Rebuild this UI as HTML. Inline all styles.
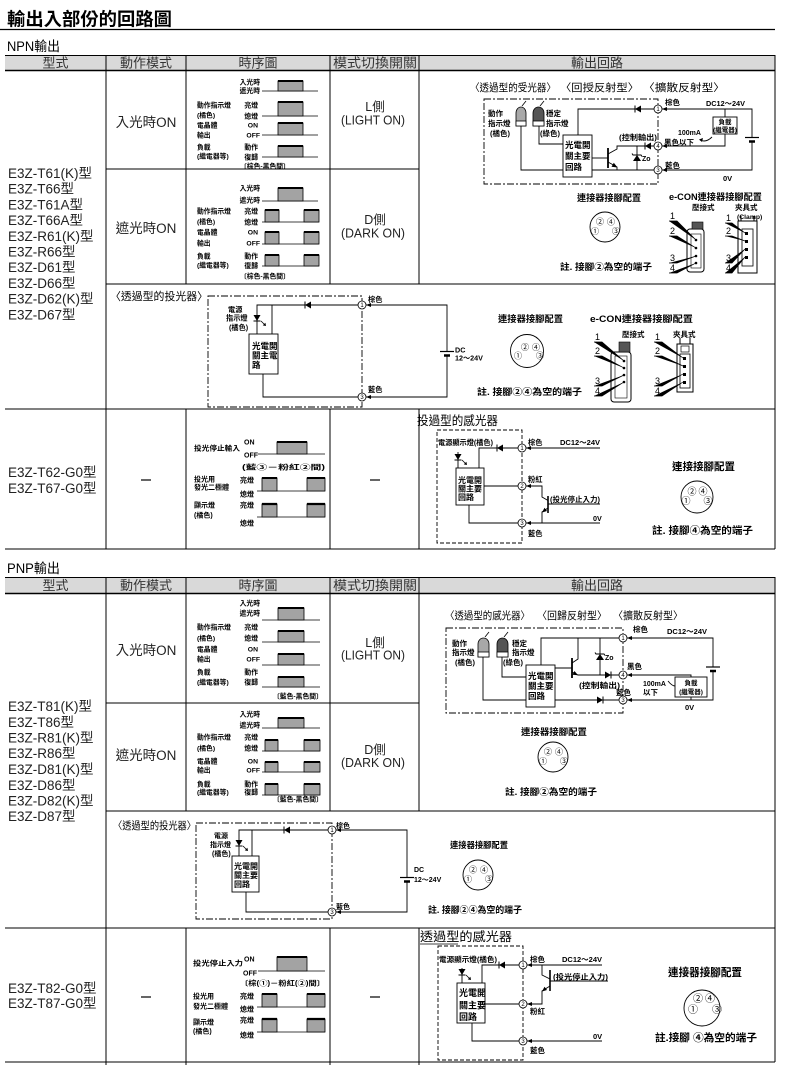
<!DOCTYPE html>
<html><head><meta charset="utf-8"><style>
html,body{margin:0;padding:0;background:#fff;}
svg{display:block;font-family:"Liberation Sans","Noto Sans CJK TC",sans-serif;}
.b{font-weight:bold;}
</style></head><body>
<svg width="790" height="1092" viewBox="0 0 790 1092" xmlns="http://www.w3.org/2000/svg" xmlns:xlink="http://www.w3.org/1999/xlink">
<defs>
<g id="dl"><polygon points="-3,0 3,-3.5 3,3.5" fill="#000"/><line x1="-3" y1="-3.5" x2="-3" y2="3.5" stroke="#000" stroke-width="1"/></g>
<g id="dr"><polygon points="3,0 -3,-3.5 -3,3.5" fill="#000"/><line x1="3" y1="-3.5" x2="3" y2="3.5" stroke="#000" stroke-width="1"/></g>
<polygon id="ta" points="0,0 5,-2 5,2" fill="#000"/>
<g id="led"><polygon points="-3.5,-3 3.5,-3 0,3" fill="#000"/><line x1="-3.5" y1="3" x2="3.5" y2="3" stroke="#000"/><line x1="4" y1="3" x2="8" y2="7" stroke="#000" stroke-width="0.8"/><polygon points="9,8 5.8,7.4 8.4,4.8" fill="#000"/></g>
<g id="zen"><polygon points="-4,3 4,3 0,-3" fill="#000"/><path d="M-5,-4.5 L-4,-3 H4 L5,-1.5" fill="none" stroke="#000"/></g>
</defs>
<rect width="790" height="1092" fill="#fff"/>

<!-- Title -->
<text x="7" y="25.5" font-size="18" class="b" textLength="165" lengthAdjust="spacingAndGlyphs">輸出入部份的回路圖</text>
<line x1="0" y1="29.5" x2="775" y2="29.5" stroke="#000" stroke-width="1.2"/>
<text x="7" y="51" font-size="13.5" textLength="53" lengthAdjust="spacingAndGlyphs">NPN輸出</text>

<!-- NPN header -->
<rect x="5" y="55.5" width="770" height="15" fill="#d9d9d9"/>
<g font-size="13" fill="#333" text-anchor="middle">
<text x="55.5" y="67.5">型式</text>
<text x="146" y="67.5">動作模式</text>
<text x="258" y="67.5">時序圖</text>
<text x="375" y="67.5" textLength="84" lengthAdjust="spacingAndGlyphs">模式切換開關</text>
<text x="597" y="67.5">輸出回路</text>
</g>

<!-- NPN table lines -->
<g stroke="#000" stroke-width="1" fill="none">
<path d="M5,55.5 H775"/>
<path d="M5,70.5 H775" stroke-width="1.5"/>
<path d="M106,169 H419 M106,284 H775 M5,409 H775 M5,549 H775"/>
<path d="M106,55 V549 M186,55 V284 M186,409 V549 M330,55 V284 M330,409 V549 M419,55 V284 M419,409 V549 M775,55 V549"/>
</g>

<!-- NPN col1 -->
<g font-size="13.5" fill="#222">
<text x="8" y="178">E3Z-T61(K)型</text>
<text x="8" y="193.7">E3Z-T66型</text>
<text x="8" y="209.4">E3Z-T61A型</text>
<text x="8" y="225.1">E3Z-T66A型</text>
<text x="8" y="240.8">E3Z-R61(K)型</text>
<text x="8" y="256.5">E3Z-R66型</text>
<text x="8" y="272.2">E3Z-D61型</text>
<text x="8" y="287.9">E3Z-D66型</text>
<text x="8" y="303.6">E3Z-D62(K)型</text>
<text x="8" y="319.3">E3Z-D67型</text>
<text x="8" y="477">E3Z-T62-G0型</text>
<text x="8" y="493">E3Z-T67-G0型</text>
</g>
<g font-size="13.5" fill="#222" text-anchor="middle">
<text x="146" y="127">入光時ON</text>
<text x="146" y="233">遮光時ON</text>
</g>
<g font-size="12.5" fill="#222" text-anchor="middle">
<text x="375" y="111">L側</text>
<text x="373" y="124.5" textLength="64" lengthAdjust="spacingAndGlyphs">(LIGHT ON)</text>
<text x="375" y="224">D側</text>
<text x="373" y="237.5" textLength="64" lengthAdjust="spacingAndGlyphs">(DARK   ON)</text>
</g>
<g stroke="#000" stroke-width="1.2"><line x1="141" y1="480" x2="151" y2="480"/><line x1="370" y1="480" x2="380" y2="480"/></g>

<!-- NPN timing chart 1 -->
<g class="b" font-size="6.8">
<g text-anchor="end">
<text x="260" y="84.5">入光時</text><text x="260" y="93">遮光時</text>
<text x="258" y="107.5">亮燈</text><text x="258" y="118.5">熄燈</text>
<text x="258" y="127.5">ON</text><text x="260" y="137.5">OFF</text>
<text x="258" y="149.5">動作</text><text x="258" y="159.5">復歸</text>
</g>
<text x="197" y="107.5">動作指示燈</text><text x="197" y="117.5">(橘色)</text>
<text x="197" y="127.5">電晶體</text><text x="197" y="137.5">輸出</text>
<text x="197" y="149.5">負載</text><text x="197" y="158.5">(繼電器等)</text>
<text x="240" y="168.5">〔棕色-黑色間〕</text>
</g>
<g stroke="#000" stroke-width="0.8">
<line x1="262" y1="91" x2="318" y2="91"/><rect x="278" y="81" width="25" height="10" fill="#a3a3a3"/><line x1="278" y1="81" x2="303" y2="81" stroke-width="2"/>
<line x1="262" y1="116" x2="318" y2="116"/><rect x="278" y="102" width="25" height="14" fill="#a3a3a3"/><line x1="278" y1="102" x2="303" y2="102" stroke-width="2"/>
<line x1="262" y1="135" x2="318" y2="135"/><rect x="278" y="123" width="25" height="12" fill="#a3a3a3"/><line x1="278" y1="123" x2="303" y2="123" stroke-width="2"/>
<line x1="262" y1="157" x2="318" y2="157"/><rect x="278" y="146" width="25" height="11" fill="#a3a3a3"/><line x1="278" y1="146" x2="303" y2="146" stroke-width="2"/>
</g>

<!-- NPN timing chart 2 -->
<g class="b" font-size="6.8">
<g text-anchor="end">
<text x="260" y="190.5">入光時</text><text x="260" y="202.5">遮光時</text>
<text x="258" y="213.5">亮燈</text><text x="258" y="224.5">熄燈</text>
<text x="258" y="234.5">ON</text><text x="260" y="245.5">OFF</text>
<text x="258" y="258.5">動作</text><text x="258" y="268">復歸</text>
</g>
<text x="197" y="213.5">動作指示燈</text><text x="197" y="224">(橘色)</text>
<text x="197" y="234.5">電晶體</text><text x="197" y="245.5">輸出</text>
<text x="197" y="258.5">負載</text><text x="197" y="267.5">(繼電器等)</text>
<text x="240" y="278.5">〔棕色-黑色間〕</text>
</g>
<g stroke="#000" stroke-width="0.8">
<line x1="262" y1="201" x2="318" y2="201"/><rect x="278" y="188" width="25" height="13" fill="#a3a3a3"/><line x1="278" y1="188" x2="303" y2="188" stroke-width="2"/>
<line x1="262" y1="222" x2="319" y2="222"/><rect x="265" y="210" width="14" height="12" fill="#a3a3a3"/><rect x="304" y="210" width="15" height="12" fill="#a3a3a3"/><path d="M265,210 H279 M304,210 H319" stroke-width="2"/>
<line x1="262" y1="244" x2="319" y2="244"/><rect x="265" y="232" width="14" height="12" fill="#a3a3a3"/><rect x="304" y="232" width="15" height="12" fill="#a3a3a3"/><path d="M265,232 H279 M304,232 H319" stroke-width="2"/>
<line x1="262" y1="266" x2="319" y2="266"/><rect x="265" y="255" width="14" height="11" fill="#a3a3a3"/><rect x="304" y="255" width="15" height="11" fill="#a3a3a3"/><path d="M265,255 H279 M304,255 H319" stroke-width="2"/>
</g>

<!-- NPN G0 timing -->
<g class="b" font-size="7">
<text x="194" y="450.5" textLength="46" lengthAdjust="spacingAndGlyphs">投光停止輸入</text>
<text x="244" y="444.5">ON</text><text x="244" y="457.5">OFF</text>
<text x="242" y="469.5" textLength="83" lengthAdjust="spacingAndGlyphs">(藍③－粉紅②間)</text>
<text x="194" y="481.5">投光用</text><text x="194" y="489.5">發光二極體</text>
<text x="240" y="482.5">亮燈</text><text x="240" y="496.5">熄燈</text>
<text x="194" y="507.5">顯示燈</text><text x="194" y="517.5">(橘色)</text>
<text x="240" y="507.5">亮燈</text><text x="240" y="525.5">熄燈</text>
</g>
<g stroke="#000" stroke-width="0.8">
<line x1="258" y1="454" x2="325" y2="454"/><rect x="277" y="442" width="30" height="12" fill="#a3a3a3"/><line x1="277" y1="442" x2="307" y2="442" stroke-width="2"/>
<line x1="257" y1="491" x2="325" y2="491"/><rect x="262" y="478" width="15" height="13" fill="#a3a3a3"/><rect x="307" y="478" width="18" height="13" fill="#a3a3a3"/><path d="M262,478 H277 M307,478 H325" stroke-width="2"/>
<line x1="257" y1="517" x2="325" y2="517"/><rect x="262" y="504" width="15" height="13" fill="#a3a3a3"/><rect x="307" y="504" width="18" height="13" fill="#a3a3a3"/><path d="M262,504 H277 M307,504 H325" stroke-width="2.2"/>
</g>

<!-- ===== Section A: NPN output circuit ===== -->
<g font-size="10.5">
<text x="470" y="91" textLength="86" lengthAdjust="spacingAndGlyphs">〈透過型的受光器〉</text>
<text x="560" y="91" textLength="79" lengthAdjust="spacingAndGlyphs">〈回授反射型〉</text>
<text x="643" y="91" textLength="82" lengthAdjust="spacingAndGlyphs">〈擴散反射型〉</text>
</g>
<rect x="484" y="99" width="174" height="85" fill="none" stroke="#000" stroke-width="0.9" stroke-dasharray="7 2 2 2"/>
<g stroke="#000" stroke-width="0.9" fill="none">
<path d="M578,135 V109 H654"/>
<path d="M521,126 V170 H654"/>
<path d="M539,126 V144 H563"/>
<path d="M592,158 H608"/>
<path d="M608,154 L617,149 V146 H654"/>
<path d="M608,162 L617,167 V170"/>
<path d="M637,146 V170"/>
<path d="M662,109 H752 V137.5"/>
<path d="M752,141.5 V170 H662"/>
<path d="M725,109 V117"/>
<path d="M725,134 V146 H662"/>
<path d="M745,137.5 H759" stroke-width="1.2"/>
<path d="M749,141.5 H755" stroke-width="2.5"/>
<path d="M608,148 V168" stroke-width="1.8"/>
<path d="M712,137 Q706,143 700,140"/>
</g>
<polygon points="617.5,167.5 611.5,166.8 613.8,162.8" fill="#000"/>
<polygon points="699,139.5 703,138 702,142" fill="#000"/>
<use href="#zen" xlink:href="#zen" x="637" y="158"/>
<use href="#dl" xlink:href="#dl" x="638" y="109"/>
<use href="#dl" xlink:href="#dl" x="648" y="146"/>
<path d="M516,126 V113 A5,6 0 0 1 526,113 V126 Z" fill="#a8a8a8" stroke="#000" stroke-width="0.8"/>
<rect x="516" y="121" width="10" height="5" fill="#fff" stroke="#000" stroke-width="0.8"/>
<path d="M533,126 V113 A5.5,6 0 0 1 544,113 V126 Z" fill="#555" stroke="#000" stroke-width="0.8"/>
<rect x="533" y="121" width="11" height="5" fill="#fff" stroke="#000" stroke-width="0.8"/>
<g stroke="#000" stroke-width="0.8"><line x1="522" y1="106" x2="526" y2="101"/><line x1="540" y1="106" x2="544" y2="101"/></g>
<rect x="563" y="135" width="29" height="42" fill="#fff" stroke="#000" stroke-width="0.9"/>
<rect x="713" y="117" width="24" height="17" fill="#fff" stroke="#000" stroke-width="0.9"/>
<g stroke="#000" stroke-width="0.8" fill="#fff">
<circle cx="658" cy="109" r="4"/><circle cx="658" cy="146" r="4"/><circle cx="658" cy="170" r="4"/>
</g>
<g font-size="6" text-anchor="middle"><text x="658" y="111.2">1</text><text x="658" y="148.2">4</text><text x="658" y="172.2">3</text></g>
<use href="#ta" xlink:href="#ta" x="662" y="109"/><use href="#ta" xlink:href="#ta" x="662" y="146"/><use href="#ta" xlink:href="#ta" x="662" y="170"/>
<g class="b" font-size="7.5">
<text x="488" y="116">動作</text><text x="488" y="126">指示燈</text><text x="490" y="136">(橘色)</text>
<text x="546" y="116">穩定</text><text x="546" y="126">指示燈</text><text x="540" y="136">(綠色)</text>
<text x="665" y="105">棕色</text>
<text x="706" y="106" textLength="39" lengthAdjust="spacingAndGlyphs">DC12～24V</text>
<text x="678" y="135" font-size="7">100mA</text>
<text x="664" y="145">黑色以下</text>
<text x="619" y="140" textLength="38" lengthAdjust="spacingAndGlyphs">(控制輸出)</text>
<text x="665" y="168">藍色</text>
<text x="723" y="181">0V</text>
<text x="642" y="161" font-size="7">Zo</text>
</g>
<g class="b" font-size="8.5"><text x="565" y="148">光電開</text><text x="565" y="159">關主要</text><text x="565" y="170">回路</text></g>
<g class="b" font-size="6.5" text-anchor="middle"><text x="725" y="124">負載</text><text x="725" y="132">(繼電器)</text></g>
<text x="577" y="201" class="b" font-size="9" textLength="64" lengthAdjust="spacingAndGlyphs">連接器接腳配置</text>
<circle cx="605" cy="227" r="15" fill="none" stroke="#000" stroke-width="0.9"/>
<g font-size="8" text-anchor="middle"><text x="600" y="224.5">②</text><text x="611" y="224.5">④</text><text x="595" y="234">①</text><text x="616" y="234">③</text></g>
<text x="560" y="270" class="b" font-size="9" textLength="92" lengthAdjust="spacingAndGlyphs">註. 接腳②為空的端子</text>
<text x="669" y="200" class="b" font-size="9" textLength="93" lengthAdjust="spacingAndGlyphs">e-CON連接器接腳配置</text>
<g class="b" font-size="7.5"><text x="692" y="210">壓接式</text><text x="735" y="210">夾具式</text><text x="737" y="219" font-size="6.8">(Clamp)</text></g>
<rect x="687" y="229" width="17" height="43" rx="3" fill="#fff" stroke="#000"/>
<rect x="692" y="222" width="11" height="7" fill="#555" stroke="#000" stroke-width="0.6"/>
<rect x="691" y="234" width="10" height="34" fill="none" stroke="#000" stroke-width="0.6"/>
<g fill="#000"><circle cx="696" cy="240" r="1.3"/><circle cx="696" cy="248" r="1.3"/><circle cx="696" cy="256" r="1.3"/><circle cx="696" cy="263" r="1.3"/></g>
<g font-size="9"><text x="670" y="219">1</text><text x="670" y="234">2</text><text x="670" y="261">3</text><text x="670" y="271">4</text></g>
<g stroke="#000" stroke-width="0.7"><path d="M669,221 H677 L696,240 M669,236 H677 L696,248 M669,263 H677 L696,256 M669,273 H677 L696,263"/></g>
<rect x="738" y="221" width="19" height="52" fill="#fff" stroke="#000"/>
<path d="M741,221 V216 M754,221 V216" stroke="#000"/>
<rect x="742" y="229" width="11" height="37" fill="none" stroke="#000" stroke-width="0.8"/>
<g fill="#000"><rect x="745" y="232" width="3" height="3"/><rect x="745" y="240" width="3" height="3"/><rect x="745" y="248" width="3" height="3"/><rect x="745" y="256" width="3" height="3"/></g>
<g font-size="9"><text x="726" y="221">1</text><text x="726" y="234">2</text><text x="726" y="261">3</text><text x="726" y="271">4</text></g>
<g stroke="#000" stroke-width="0.7"><path d="M725,223 H732 L745,233 M725,236 H732 L745,241 M725,263 H732 L745,249 M725,273 H732 L745,257"/></g>

<!-- ===== Section B: NPN emitter ===== -->
<text x="110" y="300" font-size="11" textLength="98" lengthAdjust="spacingAndGlyphs">〈透過型的投光器〉</text>
<rect x="208" y="296" width="154" height="111" fill="none" stroke="#000" stroke-width="0.9" stroke-dasharray="7 2 2 2"/>
<g stroke="#000" stroke-width="0.9" fill="none">
<path d="M257,334 V305 H358"/>
<path d="M272,305 V334"/>
<path d="M263,374 V397 H358"/>
<path d="M366,305 H447 V351.5"/>
<path d="M447,355.5 V397 H366"/>
<path d="M440,351.5 H454" stroke-width="1.2"/>
<path d="M444,355.5 H450" stroke-width="2.5"/>
</g>
<use href="#dl" xlink:href="#dl" x="308" y="305"/>
<use href="#led" xlink:href="#led" x="257" y="318"/>
<rect x="249" y="334" width="29" height="40" fill="#fff" stroke="#000" stroke-width="0.9"/>
<g class="b" font-size="8.5"><text x="252" y="349">光電開</text><text x="252" y="358.5">關主電</text><text x="252" y="368">路</text></g>
<g stroke="#000" stroke-width="0.8" fill="#fff"><circle cx="362" cy="305" r="4"/><circle cx="362" cy="397" r="4"/></g>
<g font-size="6" text-anchor="middle"><text x="362" y="307.2">1</text><text x="362" y="399.2">3</text></g>
<use href="#ta" xlink:href="#ta" x="366" y="305"/><use href="#ta" xlink:href="#ta" x="366" y="397"/>
<g class="b" font-size="7.2">
<text x="228" y="312">電源</text><text x="226" y="320.5">指示燈</text><text x="229" y="330">(橘色)</text>
<text x="368" y="302">棕色</text><text x="368" y="392">藍色</text>
<text x="455" y="352.5">DC</text><text x="455" y="360.5">12～24V</text>
</g>
<text x="498" y="322" class="b" font-size="9" textLength="65" lengthAdjust="spacingAndGlyphs">連接器接腳配置</text>
<circle cx="527" cy="351" r="16.5" fill="none" stroke="#000" stroke-width="0.9"/>
<g font-size="8" text-anchor="middle"><text x="525" y="350">②</text><text x="536" y="350">④</text><text x="518" y="358.5">①</text><text x="540" y="358.5">③</text></g>
<text x="477" y="395" class="b" font-size="9" textLength="105" lengthAdjust="spacingAndGlyphs">註. 接腳②④為空的端子</text>
<text x="590" y="322" class="b" font-size="9" textLength="103" lengthAdjust="spacingAndGlyphs">e-CON連接器接腳配置</text>
<g class="b" font-size="7.5"><text x="622" y="337">壓接式</text><text x="673" y="337">夾具式</text></g>
<rect x="611" y="352" width="20" height="50" rx="3" fill="#fff" stroke="#000"/>
<rect x="619" y="342" width="11" height="10" fill="#555" stroke="#000" stroke-width="0.6"/>
<rect x="615" y="356" width="12" height="42" fill="none" stroke="#000" stroke-width="0.6"/>
<g fill="#000"><circle cx="624" cy="361" r="1.3"/><circle cx="624" cy="368" r="1.3"/><circle cx="624" cy="375" r="1.3"/><circle cx="624" cy="382" r="1.3"/></g>
<g font-size="9"><text x="595" y="340">1</text><text x="595" y="354">2</text><text x="595" y="384">3</text><text x="595" y="394">4</text></g>
<g stroke="#000" stroke-width="0.7"><path d="M594,342 H602 L624,361 M594,356 H602 L624,368 M594,386 H602 L624,375 M594,396 H602 L624,382"/></g>
<rect x="677" y="344" width="16" height="48" fill="#fff" stroke="#000"/>
<path d="M680,344 V338 M690,344 V338" stroke="#000"/>
<rect x="681" y="346" width="8" height="6" fill="none" stroke="#000" stroke-width="0.7"/>
<rect x="680" y="354" width="10" height="34" fill="none" stroke="#000" stroke-width="0.8"/>
<g fill="#000"><rect x="683" y="357" width="3" height="3"/><rect x="683" y="365" width="3" height="3"/><rect x="683" y="373" width="3" height="3"/><rect x="683" y="381" width="3" height="3"/></g>
<g font-size="9"><text x="655" y="340">1</text><text x="655" y="354">2</text><text x="655" y="384">3</text><text x="655" y="394">4</text></g>
<g stroke="#000" stroke-width="0.7"><path d="M654,342 H662 L683,358 M654,356 H662 L683,366 M654,386 H662 L683,374 M654,396 H662 L683,382"/></g>

<!-- ===== Section C: NPN G0 output ===== -->
<text x="417" y="425" font-size="12.5" textLength="81" lengthAdjust="spacingAndGlyphs">投過型的感光器</text>
<rect x="437" y="430" width="85" height="113" fill="none" stroke="#000" stroke-width="0.9" stroke-dasharray="4 2"/>
<g stroke="#000" stroke-width="0.9" fill="none">
<path d="M479,468 V448 H518"/>
<path d="M458,452 V468"/>
<path d="M484,486 H518"/>
<path d="M469,505 V523 H518"/>
<path d="M526,448 H600"/>
<path d="M526,486 H542 V497 L548,500.5"/>
<path d="M548,508 L542,512 V523"/>
<path d="M526,523 H600"/>
<path d="M548,504 H600"/>
<path d="M548,496 V513" stroke-width="1.6"/>
</g>
<polygon points="542,512.5 544.5,507.8 547,511" fill="#000"/>
<use href="#dl" xlink:href="#dl" x="500" y="448"/>
<use href="#led" xlink:href="#led" x="458" y="457"/>
<rect x="456" y="468" width="28" height="37" fill="#fff" stroke="#000" stroke-width="0.9"/>
<g class="b" font-size="8"><text x="458" y="483">光電開</text><text x="458" y="491.5">關主要</text><text x="458" y="500">回路</text></g>
<g stroke="#000" stroke-width="0.8" fill="#fff"><circle cx="522" cy="448" r="4"/><circle cx="522" cy="486" r="4"/><circle cx="522" cy="523" r="4"/></g>
<g font-size="6" text-anchor="middle"><text x="522" y="450.2">1</text><text x="522" y="488.2">2</text><text x="522" y="525.2">3</text></g>
<use href="#ta" xlink:href="#ta" x="526" y="448"/><use href="#ta" xlink:href="#ta" x="526" y="486"/><use href="#ta" xlink:href="#ta" x="526" y="523"/>
<g class="b" font-size="7.2">
<text x="438" y="445" textLength="55" lengthAdjust="spacingAndGlyphs">電源顯示燈(橘色)</text>
<text x="528" y="445">棕色</text>
<text x="560" y="445" textLength="40" lengthAdjust="spacingAndGlyphs">DC12～24V</text>
<text x="528" y="482">粉紅</text>
<text x="550" y="502" textLength="50" lengthAdjust="spacingAndGlyphs">(投光停止入力)</text>
<text x="593" y="521">0V</text>
<text x="528" y="536">藍色</text>
</g>
<text x="672" y="470" class="b" font-size="10.5" textLength="63" lengthAdjust="spacingAndGlyphs">連接接腳配置</text>
<circle cx="697" cy="497" r="16" fill="none" stroke="#000" stroke-width="0.9"/>
<g font-size="9" text-anchor="middle"><text x="692" y="494.5">②</text><text x="703" y="494.5">④</text><text x="686" y="504">①</text><text x="708" y="504">③</text></g>
<text x="652" y="534" class="b" font-size="10" textLength="101" lengthAdjust="spacingAndGlyphs">註. 接腳④為空的端子</text>

<!-- ===================== PNP ===================== -->
<text x="7" y="573" font-size="13.5" textLength="53" lengthAdjust="spacingAndGlyphs">PNP輸出</text>
<rect x="5" y="577.5" width="770" height="16" fill="#d9d9d9"/>
<g font-size="13" fill="#333" text-anchor="middle">
<text x="55.5" y="590">型式</text>
<text x="146" y="590">動作模式</text>
<text x="258" y="590">時序圖</text>
<text x="375" y="590" textLength="84" lengthAdjust="spacingAndGlyphs">模式切換開關</text>
<text x="597" y="590">輸出回路</text>
</g>
<g stroke="#000" stroke-width="1" fill="none">
<path d="M5,577.5 H775"/>
<path d="M5,593.5 H775" stroke-width="1.5"/>
<path d="M106,703 H419 M106,811 H775 M5,928 H775 M5,1062 H775"/>
<path d="M106,577 V1065 M186,577 V811 M186,928 V1065 M330,577 V811 M330,928 V1065 M419,577 V811 M419,928 V1065 M775,577 V1062"/>
</g>
<g font-size="13.5" fill="#222">
<text x="8" y="711">E3Z-T81(K)型</text>
<text x="8" y="727">E3Z-T86型</text>
<text x="8" y="742.5">E3Z-R81(K)型</text>
<text x="8" y="758">E3Z-R86型</text>
<text x="8" y="774">E3Z-D81(K)型</text>
<text x="8" y="790">E3Z-D86型</text>
<text x="8" y="805.5">E3Z-D82(K)型</text>
<text x="8" y="821">E3Z-D87型</text>
<text x="8" y="993">E3Z-T82-G0型</text>
<text x="8" y="1008">E3Z-T87-G0型</text>
</g>
<g font-size="13.5" fill="#222" text-anchor="middle">
<text x="146" y="655">入光時ON</text>
<text x="146" y="760">遮光時ON</text>
</g>
<g font-size="12.5" fill="#222" text-anchor="middle">
<text x="375" y="647">L側</text>
<text x="373" y="659.5" textLength="64" lengthAdjust="spacingAndGlyphs">(LIGHT ON)</text>
<text x="375" y="754">D側</text>
<text x="373" y="767" textLength="64" lengthAdjust="spacingAndGlyphs">(DARK   ON)</text>
</g>
<g stroke="#000" stroke-width="1.2"><line x1="141" y1="997" x2="151" y2="997"/><line x1="370" y1="997" x2="380" y2="997"/></g>

<!-- PNP timing chart 1 -->
<g class="b" font-size="6.8">
<g text-anchor="end">
<text x="260" y="605.5">入光時</text><text x="260" y="615.5">遮光時</text>
<text x="258" y="629.5">亮燈</text><text x="258" y="640.5">熄燈</text>
<text x="258" y="651.5">ON</text><text x="260" y="661.5">OFF</text>
<text x="258" y="674.5">動作</text><text x="258" y="684.5">復歸</text>
</g>
<text x="197" y="629.5">動作指示燈</text><text x="197" y="640.5">(橘色)</text>
<text x="197" y="651.5">電晶體</text><text x="197" y="661.5">輸出</text>
<text x="197" y="674.5">負載</text><text x="197" y="684.5">(繼電器等)</text>
<text x="273" y="698.5">〔藍色-黑色間〕</text>
</g>
<g stroke="#000" stroke-width="0.8">
<line x1="262" y1="620" x2="320" y2="620"/><rect x="278" y="608" width="26" height="12" fill="#a3a3a3"/><line x1="278" y1="608" x2="304" y2="608" stroke-width="2"/>
<line x1="262" y1="642" x2="320" y2="642"/><rect x="278" y="631" width="26" height="11" fill="#a3a3a3"/><line x1="278" y1="631" x2="304" y2="631" stroke-width="2"/>
<line x1="262" y1="665" x2="320" y2="665"/><rect x="278" y="654" width="26" height="11" fill="#a3a3a3"/><line x1="278" y1="654" x2="304" y2="654" stroke-width="2"/>
<line x1="262" y1="687" x2="320" y2="687"/><rect x="278" y="677" width="26" height="10" fill="#a3a3a3"/><line x1="278" y1="677" x2="304" y2="677" stroke-width="2"/>
</g>

<!-- PNP timing chart 2 -->
<g class="b" font-size="6.8">
<g text-anchor="end">
<text x="260" y="716.5">入光時</text><text x="260" y="727.5">遮光時</text>
<text x="258" y="739.5">亮燈</text><text x="258" y="750.5">熄燈</text>
<text x="258" y="763.5">ON</text><text x="260" y="772.5">OFF</text>
<text x="258" y="786.5">動作</text><text x="258" y="794.5">復歸</text>
</g>
<text x="197" y="739.5">動作指示燈</text><text x="197" y="750.5">(橘色)</text>
<text x="197" y="763.5">電晶體</text><text x="197" y="772.5">輸出</text>
<text x="197" y="786.5">負載</text><text x="197" y="794.5">(繼電器等)</text>
<text x="273" y="801.5">〔藍色-黑色間〕</text>
</g>
<g stroke="#000" stroke-width="0.8">
<line x1="262" y1="728" x2="320" y2="728"/><rect x="278" y="718" width="26" height="10" fill="#a3a3a3"/><line x1="278" y1="718" x2="304" y2="718" stroke-width="2"/>
<line x1="262" y1="751" x2="320" y2="751"/><rect x="265" y="740" width="13" height="11" fill="#a3a3a3"/><rect x="304" y="740" width="16" height="11" fill="#a3a3a3"/><path d="M265,740 H278 M304,740 H320" stroke-width="2"/>
<line x1="262" y1="772" x2="320" y2="772"/><rect x="265" y="762" width="13" height="10" fill="#a3a3a3"/><rect x="304" y="762" width="16" height="10" fill="#a3a3a3"/><path d="M265,762 H278 M304,762 H320" stroke-width="2"/>
<line x1="262" y1="795" x2="320" y2="795"/><rect x="265" y="784" width="13" height="11" fill="#a3a3a3"/><rect x="304" y="784" width="16" height="11" fill="#a3a3a3"/><path d="M265,784 H278 M304,784 H320" stroke-width="2"/>
</g>

<!-- PNP G0 timing -->
<g class="b" font-size="7">
<text x="193" y="965.5" textLength="50" lengthAdjust="spacingAndGlyphs">投光停止入力</text>
<text x="244" y="961.5">ON</text><text x="243" y="975.5">OFF</text>
<text x="240" y="985.5" textLength="85" lengthAdjust="spacingAndGlyphs">〔棕(①)－粉紅(②)間〕</text>
<text x="193" y="998.5">投光用</text><text x="193" y="1008.5">發光二極體</text>
<text x="240" y="998.5">亮燈</text><text x="240" y="1011.5">熄燈</text>
<text x="193" y="1024.5">顯示燈</text><text x="193" y="1033.5">(橘色)</text>
<text x="240" y="1022.5">亮燈</text><text x="240" y="1037.5">熄燈</text>
</g>
<g stroke="#000" stroke-width="0.8">
<line x1="258" y1="971" x2="325" y2="971"/><rect x="277" y="957" width="30" height="14" fill="#a3a3a3"/><line x1="277" y1="957" x2="307" y2="957" stroke-width="2"/>
<line x1="257" y1="1007" x2="325" y2="1007"/><rect x="262" y="994" width="15" height="13" fill="#a3a3a3"/><rect x="307" y="994" width="18" height="13" fill="#a3a3a3"/><path d="M262,994 H277 M307,994 H325" stroke-width="2"/>
<line x1="257" y1="1032" x2="325" y2="1032"/><rect x="262" y="1019" width="15" height="13" fill="#a3a3a3"/><rect x="307" y="1019" width="18" height="13" fill="#a3a3a3"/><path d="M262,1019 H277 M307,1019 H325" stroke-width="2.2"/>
</g>

<!-- ===== Section D: PNP output circuit ===== -->
<g font-size="10.5">
<text x="445" y="619" textLength="85" lengthAdjust="spacingAndGlyphs">〈透過型的感光器〉</text>
<text x="537" y="619" textLength="70" lengthAdjust="spacingAndGlyphs">〈回歸反射型〉</text>
<text x="613" y="619" textLength="70" lengthAdjust="spacingAndGlyphs">〈擴散反射型〉</text>
</g>
<rect x="446" y="628" width="177" height="85" fill="none" stroke="#000" stroke-width="0.9" stroke-dasharray="7 2 2 2"/>
<g stroke="#000" stroke-width="0.9" fill="none">
<path d="M483,657 V700 H619"/>
<path d="M502,657 V677 H526"/>
<path d="M541,665 V638 H619"/>
<path d="M555,668 H572"/>
<path d="M572,663 L578,659 V638"/>
<path d="M572,672 L578,675 H619"/>
<path d="M600,638 V675"/>
<path d="M627,638 H713 V667"/>
<path d="M713,671.5 V700 H627"/>
<path d="M627,675 H691 V677"/>
<path d="M691,697 V700"/>
<path d="M706,667 H720" stroke-width="1.2"/>
<path d="M710,671 H716" stroke-width="2.5"/>
<path d="M572,658 V678" stroke-width="1.8"/>
<path d="M668,681 Q672,686 675,686"/>
</g>
<polygon points="578,675.3 572.5,674.8 574.5,671" fill="#000"/>
<use href="#zen" xlink:href="#zen" x="600" y="657"/>
<use href="#dr" xlink:href="#dr" x="608" y="675"/>
<use href="#dr" xlink:href="#dr" x="600" y="700"/>
<path d="M478,657 V644 A5.5,6 0 0 1 489,644 V657 Z" fill="#a8a8a8" stroke="#000" stroke-width="0.8"/>
<rect x="478" y="652" width="11" height="5" fill="#fff" stroke="#000" stroke-width="0.8"/>
<path d="M497,657 V644 A5.5,6 0 0 1 508,644 V657 Z" fill="#555" stroke="#000" stroke-width="0.8"/>
<rect x="497" y="652" width="11" height="5" fill="#fff" stroke="#000" stroke-width="0.8"/>
<g stroke="#000" stroke-width="0.8"><line x1="485" y1="637" x2="489" y2="632"/><line x1="504" y1="637" x2="508" y2="632"/></g>
<rect x="526" y="665" width="29" height="42" fill="#fff" stroke="#000" stroke-width="0.9"/>
<rect x="675" y="677" width="32" height="20" fill="#fff" stroke="#000" stroke-width="0.9"/>
<g stroke="#000" stroke-width="0.8" fill="#fff"><circle cx="623" cy="638" r="4"/><circle cx="623" cy="675" r="4"/><circle cx="623" cy="700" r="4"/></g>
<g font-size="6" text-anchor="middle"><text x="623" y="640.2">1</text><text x="623" y="677.2">4</text><text x="623" y="702.2">3</text></g>
<use href="#ta" xlink:href="#ta" x="627" y="638"/><use href="#ta" xlink:href="#ta" x="627" y="675"/><use href="#ta" xlink:href="#ta" x="627" y="700"/>
<g class="b" font-size="7.5">
<text x="452" y="646">動作</text><text x="452" y="655">指示燈</text><text x="455" y="665">(橘色)</text>
<text x="512" y="646">穩定</text><text x="512" y="655">指示燈</text><text x="503" y="665">(綠色)</text>
<text x="633" y="632">棕色</text>
<text x="667" y="634" textLength="40" lengthAdjust="spacingAndGlyphs">DC12～24V</text>
<text x="627" y="669">黑色</text>
<text x="643" y="686" font-size="7">100mA</text>
<text x="616" y="695">藍色</text><text x="643" y="695">以下</text>
<text x="579" y="688" textLength="41" lengthAdjust="spacingAndGlyphs">(控制輸出)</text>
<text x="685" y="710">0V</text>
<text x="605" y="660" font-size="7">Zo</text>
</g>
<g class="b" font-size="8.5"><text x="528" y="679">光電開</text><text x="528" y="689">關主要</text><text x="528" y="699">回路</text></g>
<g class="b" font-size="6.5" text-anchor="middle"><text x="691" y="685">負載</text><text x="691" y="694">(繼電器)</text></g>
<text x="521" y="735" class="b" font-size="9" textLength="66" lengthAdjust="spacingAndGlyphs">連接器接腳配置</text>
<circle cx="553" cy="757" r="15" fill="none" stroke="#000" stroke-width="0.9"/>
<g font-size="8" text-anchor="middle"><text x="548" y="754.5">②</text><text x="559" y="754.5">④</text><text x="543" y="764">①</text><text x="564" y="764">③</text></g>
<text x="505" y="795" class="b" font-size="9" textLength="92" lengthAdjust="spacingAndGlyphs">註. 接腳②為空的端子</text>

<!-- ===== Section E: PNP emitter ===== -->
<text x="113" y="829" font-size="10.5" textLength="83" lengthAdjust="spacingAndGlyphs">〈透過型的投光器〉</text>
<rect x="196" y="823" width="136" height="96" fill="none" stroke="#000" stroke-width="0.9" stroke-dasharray="7 2 2 2"/>
<g stroke="#000" stroke-width="0.9" fill="none">
<path d="M239,856 V830 H328"/>
<path d="M252,830 V856"/>
<path d="M246,892 V912 H328"/>
<path d="M336,830 H407 V877.5"/>
<path d="M407,882 V912 H336"/>
<path d="M400,877.5 H414" stroke-width="1.2"/>
<path d="M404,881.5 H410" stroke-width="2.5"/>
</g>
<use href="#dl" xlink:href="#dl" x="287" y="830"/>
<use href="#led" xlink:href="#led" x="239" y="843"/>
<rect x="232" y="856" width="27" height="36" fill="#fff" stroke="#000" stroke-width="0.9"/>
<g class="b" font-size="8"><text x="234" y="869">光電開</text><text x="234" y="878">關主要</text><text x="234" y="887">回路</text></g>
<g stroke="#000" stroke-width="0.8" fill="#fff"><circle cx="332" cy="830" r="4"/><circle cx="332" cy="912" r="4"/></g>
<g font-size="6" text-anchor="middle"><text x="332" y="832.2">1</text><text x="332" y="914.2">3</text></g>
<use href="#ta" xlink:href="#ta" x="336" y="830"/><use href="#ta" xlink:href="#ta" x="336" y="912"/>
<g class="b" font-size="7">
<text x="214" y="838">電源</text><text x="210" y="847">指示燈</text><text x="212" y="856">(橘色)</text>
<text x="336" y="828">棕色</text><text x="336" y="909">藍色</text>
<text x="414" y="872">DC</text><text x="414" y="882">12～24V</text>
</g>
<text x="450" y="848" class="b" font-size="8.5" textLength="58" lengthAdjust="spacingAndGlyphs">連接器接腳配置</text>
<circle cx="478" cy="875" r="15" fill="none" stroke="#000" stroke-width="0.9"/>
<g font-size="8" text-anchor="middle"><text x="473" y="872.5">②</text><text x="484" y="872.5">④</text><text x="468" y="882">①</text><text x="489" y="882">③</text></g>
<text x="428" y="913" class="b" font-size="9" textLength="94" lengthAdjust="spacingAndGlyphs">註. 接腳②④為空的端子</text>

<!-- ===== Section F: PNP G0 output ===== -->
<text x="420" y="941" font-size="12.5" textLength="92" lengthAdjust="spacingAndGlyphs">透過型的感光器</text>
<line x1="420" y1="944" x2="458" y2="944" stroke="#000" stroke-width="0.7"/>
<rect x="438" y="946" width="85" height="114" fill="none" stroke="#000" stroke-width="0.9" stroke-dasharray="4 2"/>
<g stroke="#000" stroke-width="0.9" fill="none">
<path d="M482,983 V965 H519"/>
<path d="M462,968 V983"/>
<path d="M485,1004 H519"/>
<path d="M472,1023 V1041 H519"/>
<path d="M527,965 H602"/>
<path d="M542,965 V975 L550,979"/>
<path d="M550,986 L542,991 V1004 H527"/>
<path d="M550,981 H608"/>
<path d="M527,1041 H602"/>
<path d="M550,970 V991" stroke-width="1.6"/>
</g>
<polygon points="542,991.5 544.5,986.8 547,990" fill="#000"/>
<use href="#dl" xlink:href="#dl" x="502" y="965"/>
<use href="#led" xlink:href="#led" x="462" y="972"/>
<rect x="457" y="983" width="28" height="40" fill="#fff" stroke="#000" stroke-width="0.9"/>
<g class="b" font-size="9"><text x="459" y="996">光電開</text><text x="459" y="1008.5">關主要</text><text x="459" y="1020">回路</text></g>
<g stroke="#000" stroke-width="0.8" fill="#fff"><circle cx="523" cy="965" r="4"/><circle cx="523" cy="1004" r="4"/><circle cx="523" cy="1041" r="4"/></g>
<g font-size="6" text-anchor="middle"><text x="523" y="967.2">1</text><text x="523" y="1006.2">2</text><text x="523" y="1043.2">3</text></g>
<use href="#ta" xlink:href="#ta" x="527" y="965"/><use href="#ta" xlink:href="#ta" x="527" y="1004"/><use href="#ta" xlink:href="#ta" x="527" y="1041"/>
<g class="b" font-size="7.5">
<text x="439" y="962" textLength="58" lengthAdjust="spacingAndGlyphs">電源顯示燈(橘色)</text>
<text x="530" y="962">棕色</text>
<text x="562" y="962" textLength="40" lengthAdjust="spacingAndGlyphs">DC12～24V</text>
<text x="553" y="979.5" textLength="55" lengthAdjust="spacingAndGlyphs">(投光停止入力)</text>
<text x="530" y="1014">粉紅</text>
<text x="593" y="1039">0V</text>
<text x="530" y="1053">藍色</text>
</g>
<text x="668" y="976" class="b" font-size="11" textLength="74" lengthAdjust="spacingAndGlyphs">連接器接腳配置</text>
<circle cx="702" cy="1008" r="18" fill="none" stroke="#000" stroke-width="0.9"/>
<g font-size="10" text-anchor="middle"><text x="698" y="1002">②</text><text x="710" y="1002">④</text><text x="693" y="1013">①</text><text x="717" y="1013">③</text></g>
<text x="655" y="1041" class="b" font-size="10.5" textLength="102" lengthAdjust="spacingAndGlyphs">註.接腳 ④為空的端子</text>
</svg>
</body></html>
